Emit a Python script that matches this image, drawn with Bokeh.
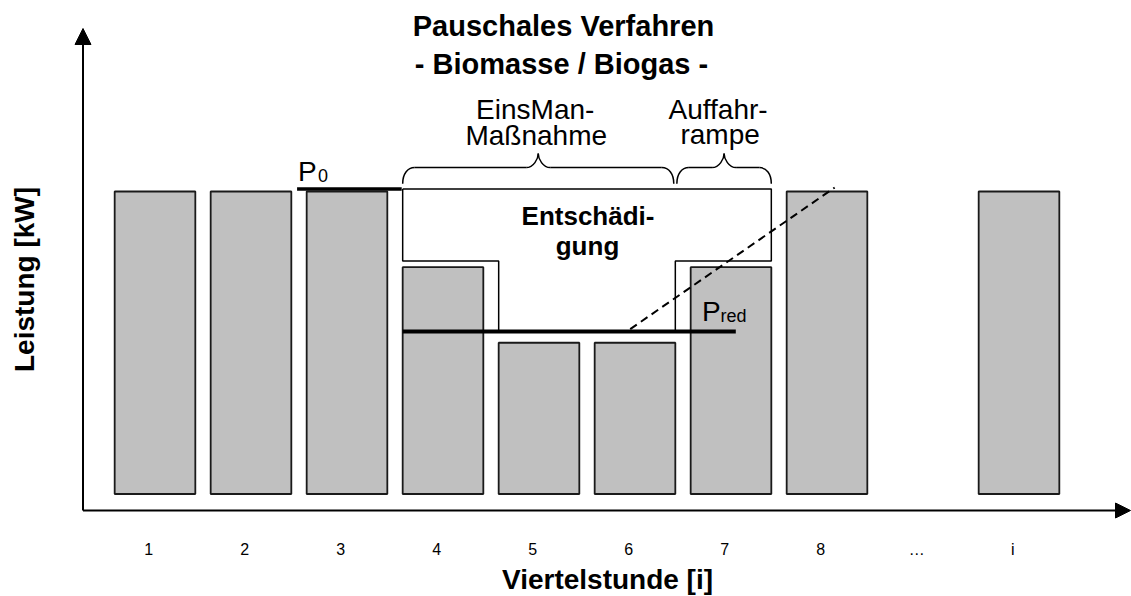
import math
from bokeh.plotting import figure
from bokeh.models import ColumnDataSource, Range1d, Arrow, NormalHead
from bokeh.core.properties import value
from bokeh.embed import file_html
from bokeh.resources import INLINE

# ---------------- data ----------------
slot_pos = [1, 2, 3, 4, 5, 6, 7, 8, 9, 10]
slot_labels = ["1", "2", "3", "4", "5", "6", "7", "8", "\u2026", "i"]
bar_slots = [1, 2, 3, 4, 5, 6, 7, 8, 10]
bar_power = [100, 100, 100, 75, 50, 50, 75, 100, 100]
p0_level = 100.8
pred_level = 53.7
measure_slots = [4, 5, 6]
ramp_slots = [7]
comp_slots = [4, 5, 6, 7]
comp_lower = [77, 53.7, 53.7, 77]
p0_span = [2.48, 3.57]
pred_span = [3.58, 7.05]
ramp_x = [5.95, 8.08]
ramp_y = [54.5, 101.3]

title_lines = ["Pauschales Verfahren", "- Biomasse / Biogas -"]
x_title = "Viertelstunde [i]"
y_title = "Leistung [kW]"

# ---------------- layout helpers (pixel frame -> data) ----------------
PX_PER_SLOT = 96.0
PX_PER_KW = 3.025
def X(px):
    return (px - 154.5) / PX_PER_SLOT + 1
def Y(py):
    return (493.5 - py) / PX_PER_KW

W, H = 1131, 596
p = figure(width=W, height=H, output_backend="svg", toolbar_location=None,
           x_range=Range1d(X(0), X(W)), y_range=Range1d(Y(H), Y(0)),
           min_border=0, min_border_left=0, min_border_right=0,
           min_border_top=0, min_border_bottom=0)
p.axis.visible = False
p.grid.visible = False
p.outline_line_color = None
p.background_fill_color = "white"

FONT = value("Liberation Sans")
bar_w = 0.84

# ---------------- bars ----------------
src = ColumnDataSource(dict(x=bar_slots, top=bar_power))
p.vbar(x="x", top="top", bottom=0, width=bar_w, source=src,
       fill_color="#c0c0c0", line_color="#1a1a1a", line_width=1.8)

# ---------------- compensation outline ----------------
half = bar_w / 2
bounds = [comp_slots[0] - half]
for k in range(len(comp_slots) - 1):
    if comp_lower[k] > comp_lower[k + 1]:
        bounds.append(comp_slots[k + 1] - half)
    else:
        bounds.append(comp_slots[k] + half)
bounds.append(comp_slots[-1] + half)
ox = [bounds[0]]
oy = [p0_level]
for k, lv in enumerate(comp_lower):
    ox += [bounds[k], bounds[k + 1]]
    oy += [lv, lv]
ox += [bounds[-1], bounds[0]]
oy += [p0_level, p0_level]
p.line(ox, oy, line_color="black", line_width=1.5)

# ---------------- P0 / Pred lines and ramp ----------------
p.line(p0_span, [p0_level, p0_level], line_color="black", line_width=3.5)
p.line(pred_span, [pred_level, pred_level], line_color="black", line_width=4)
p.line(ramp_x, ramp_y, line_color="black", line_width=2, line_dash="8 5")

# ---------------- braces ----------------
y_end, y_mid, y_tip = 102.6, 107.9, 112.6
rx = 0.125
gap = 0.016
def brace(x0, x1):
    xm = (x0 + x1) / 2
    segs = []
    segs.append((x0, y_end, x0 + rx, y_mid, x0, y_end + 0.6 * (y_mid - y_end), x0 + rx * 0.4, y_mid))
    segs.append((xm - rx, y_mid, xm, y_tip, xm - rx * 0.4, y_mid, xm, y_mid + 0.6 * (y_tip - y_mid)))
    segs.append((xm + rx, y_mid, xm, y_tip, xm + rx * 0.4, y_mid, xm, y_mid + 0.6 * (y_tip - y_mid)))
    segs.append((x1, y_end, x1 - rx, y_mid, x1, y_end + 0.6 * (y_mid - y_end), x1 - rx * 0.4, y_mid))
    lines = [(x0 + rx, xm - rx), (xm + rx, x1 - rx)]
    return segs, lines, xm

b1 = brace(min(measure_slots) - half, max(measure_slots) + half - gap)
b2 = brace(max(measure_slots) + half + gap, max(ramp_slots) + half)
for segs, lines, _ in (b1, b2):
    bz = dict(x0=[], y0=[], x1=[], y1=[], cx0=[], cy0=[], cx1=[], cy1=[])
    for s in segs:
        for key, v in zip(["x0", "y0", "x1", "y1", "cx0", "cy0", "cx1", "cy1"], s):
            bz[key].append(v)
    p.bezier(source=ColumnDataSource(bz), x0="x0", y0="y0", x1="x1", y1="y1",
             cx0="cx0", cy0="cy0", cx1="cx1", cy1="cy1",
             line_color="black", line_width=1.5)
    p.segment(x0=[a for a, b in lines], y0=[y_mid] * 2, x1=[b for a, b in lines],
              y1=[y_mid] * 2, line_color="black", line_width=1.5)

# ---------------- axes (arrows) ----------------
ax_x0 = X(82.5)
ax_y0 = Y(510)
p.add_layout(Arrow(end=NormalHead(size=16, fill_color="black", line_color="black"),
                   x_start=ax_x0, y_start=ax_y0, x_end=ax_x0, y_end=Y(28),
                   line_color="black", line_width=2))
p.add_layout(Arrow(end=NormalHead(size=15, fill_color="black", line_color="black"),
                   x_start=ax_x0, y_start=ax_y0, x_end=X(1130), y_end=ax_y0,
                   line_color="black", line_width=2))

# ---------------- texts ----------------
def corr(size):
    return 8.0 if size >= 24 else (7.0 if size >= 18 else 6.5)

def txt(px, py, t, size, bold=False, align="center"):
    # px, py: desired left/centre x and alphabetic baseline (pixels)
    p.text(x=[X(px)], y=[Y(py - corr(size))], text=[t], text_font=FONT,
           text_font_size=f"{size}px",
           text_font_style="bold" if bold else "normal", text_align=align,
           text_baseline="alphabetic", text_color="black")

# tick labels
tick_dx = -0.065
p.text(x=[s + tick_dx for s in slot_pos], y=[Y(555 - corr(16))] * len(slot_pos),
       text=slot_labels, text_font=FONT, text_font_size="16px", text_align="center",
       text_baseline="alphabetic", text_color="black")

txt(607, 587, x_title, 28, bold=True)
p.text(x=[X(33 - 9)], y=[Y(279)], text=[y_title], text_font=FONT, text_font_size="28px",
       text_font_style="bold", text_align="center", text_baseline="alphabetic",
       text_color="black", angle=math.pi / 2)

txt(563, 33, title_lines[0], 29, bold=True)
txt(561, 71.5, title_lines[1], 29, bold=True)

bx1 = (b1[2] - 1) * PX_PER_SLOT + 154.5
bx2 = (b2[2] - 1) * PX_PER_SLOT + 154.5
txt(bx1 - 3, 117.3, "EinsMan-", 28)
txt(bx1 - 2, 143, "Maßnahme", 28)
txt(bx2 - 6, 117.3, "Auffahr-", 28)
txt(bx2 - 4, 142, "rampe", 28)

txt(587.5, 223.3, "Entschädi-", 26, bold=True)
txt(587, 253, "gung", 26, bold=True)

p0_px = (p0_span[0] - 1) * PX_PER_SLOT + 154.5
txt(p0_px + 1, 179, "P", 28, align="left")
txt(p0_px + 21, 182, "0", 18, align="left")
txt(701.5, 319, "P", 28, align="left")
txt(720, 322.5, "red", 18, align="left")

open("out.html", "w").write(file_html(p, INLINE))
